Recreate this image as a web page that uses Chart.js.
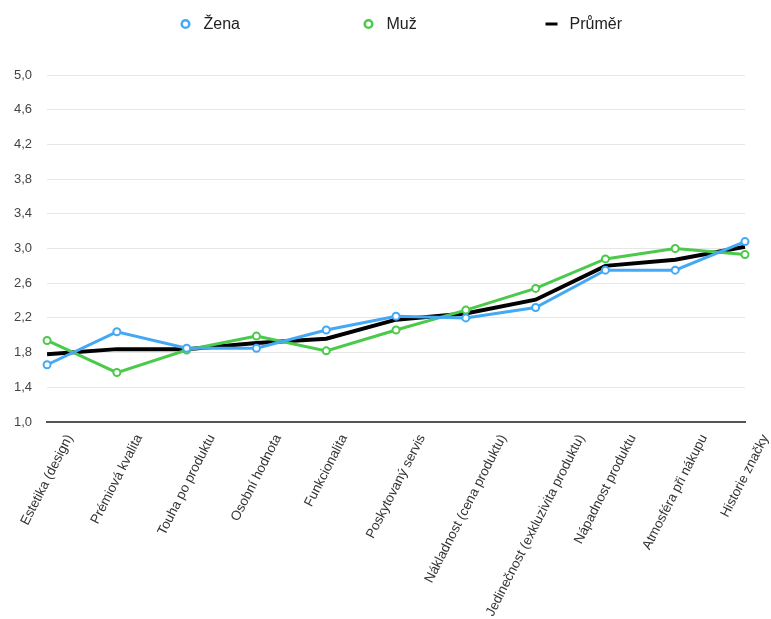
<!DOCTYPE html>
<html lang="cs">
<head>
<meta charset="UTF-8">
<title>Hodnocení podle pohlaví</title>
<script src="https://cdn.jsdelivr.net/npm/chart.js"></script>
<style>
  html, body { margin: 0; padding: 0; background: #fff; overflow: hidden; }
  #wrap { width: 771px; height: 619px; }
</style>
</head>
<body>
<div id="wrap"><canvas id="chart-hodnoceni"></canvas></div>
<script>
    const kategorie = [
        'Estetika (design)', 'Prémiová kvalita', 'Touha po produktu', 'Osobní hodnota',
        'Funkcionalita', 'Poskytovaný servis', 'Nákladnost (cena produktu)',
        'Jedinečnost (exkluzivita produktu)', 'Nápadnost produktu', 'Atmosféra při nákupu',
        'Historie značky'
    ];
    const zena = [1.66, 2.04, 1.85, 1.85, 2.06, 2.22, 2.20, 2.32, 2.75, 2.75, 3.08];
    const muz = [1.94, 1.57, 1.83, 1.99, 1.82, 2.06, 2.29, 2.54, 2.88, 3.00, 2.93];
    const prumer = [1.78, 1.84, 1.84, 1.91, 1.96, 2.18, 2.25, 2.41, 2.80, 2.87, 3.02];

    const pismo = '"Liberation Sans", Arial, sans-serif';

    // legenda v široce rozestoupených sloupcích nad grafem
    const legendaNahore = {
        id: 'legendaNahore',
        afterDraw(chart) {
            const ctx = chart.ctx;
            const rozestup = 183;
            const stred = chart.width / 2 - 17;
            const y = 24;
            ctx.save();
            ctx.font = '16px ' + pismo;
            ctx.textBaseline = 'middle';
            ctx.fillStyle = '#222';
            chart.data.datasets.forEach((ds, i) => {
                const x = stred + (i - 1) * rozestup;
                ctx.strokeStyle = ds.borderColor;
                if (ds.pointStyle === 'line') {
                    ctx.lineWidth = 3;
                    ctx.beginPath();
                    ctx.moveTo(x - 6, y);
                    ctx.lineTo(x + 6, y);
                    ctx.stroke();
                } else {
                    ctx.lineWidth = 2.5;
                    ctx.fillStyle = '#fff';
                    ctx.beginPath();
                    ctx.arc(x, y, 3.8, 0, Math.PI * 2);
                    ctx.fill();
                    ctx.stroke();
                    ctx.fillStyle = '#222';
                }
                ctx.fillText(ds.label, x + 18, y + 1);
            });
            ctx.restore();
        }
    };

    // šikmé popisky kategorií, každý vystředěný pod svou značkou na ose x
    const popiskyOsyX = {
        id: 'popiskyOsyX',
        afterDraw(chart) {
            const sx = chart.scales.x;
            const ctx = chart.ctx;
            const uhel = 63 * Math.PI / 180;
            const vyska = 11;
            ctx.save();
            ctx.font = '13.4px ' + pismo;
            ctx.fillStyle = '#333';
            ctx.textAlign = 'center';
            ctx.textBaseline = 'middle';
            chart.data.labels.forEach((text, i) => {
                const x = sx.getPixelForTick(i);
                const w = ctx.measureText(text).width;
                const y = sx.top + 11 + (w / 2) * Math.sin(uhel) + (vyska / 2) * Math.cos(uhel);
                ctx.save();
                ctx.translate(x, y);
                ctx.rotate(-uhel);
                ctx.fillText(text, 0, 0);
                ctx.restore();
            });
            ctx.restore();
        }
    };

    new Chart(document.getElementById('chart-hodnoceni'), {
        type: 'line',
        data: {
            labels: kategorie,
            datasets: [{
                label: 'Žena',
                data: zena,
                borderColor: '#44a9f4',
                backgroundColor: '#ffffff',
                borderWidth: 3,
                pointRadius: 3.5,
                pointBorderWidth: 2,
                pointStyle: 'circle',
                order: 1
            }, {
                label: 'Muž',
                data: muz,
                borderColor: '#4bc94b',
                backgroundColor: '#ffffff',
                borderWidth: 3,
                pointRadius: 3.5,
                pointBorderWidth: 2,
                pointStyle: 'circle',
                order: 1
            }, {
                label: 'Průměr',
                data: prumer,
                borderColor: '#000000',
                backgroundColor: '#000000',
                borderWidth: 4,
                pointRadius: 0,
                pointStyle: 'line',
                order: 2
            }]
        },
        options: {
            responsive: true,
            maintainAspectRatio: false,
            animation: false,
            layout: {
                // místo dole pro šikmé popisky
                padding: { top: 75, right: 26, left: -1, bottom: 197 }
            },
            plugins: {
                legend: { display: false },
                tooltip: { enabled: false }
            },
            scales: {
                x: {
                    offset: false,
                    grid: { display: false, drawTicks: false },
                    border: { display: true, color: '#555', width: 2 },
                    ticks: { display: false, autoSkip: false }
                },
                y: {
                    min: 1,
                    max: 5,
                    grid: { color: '#e6e6e6', lineWidth: 1, drawTicks: false },
                    border: { display: false },
                    ticks: {
                        stepSize: 0.4,
                        padding: 15,
                        color: '#444',
                        font: { family: pismo, size: 13 },
                        callback: (v) => v.toFixed(1).replace('.', ',')
                    }
                }
            }
        },
        plugins: [legendaNahore, popiskyOsyX]
    });
</script>
</body>
</html>
